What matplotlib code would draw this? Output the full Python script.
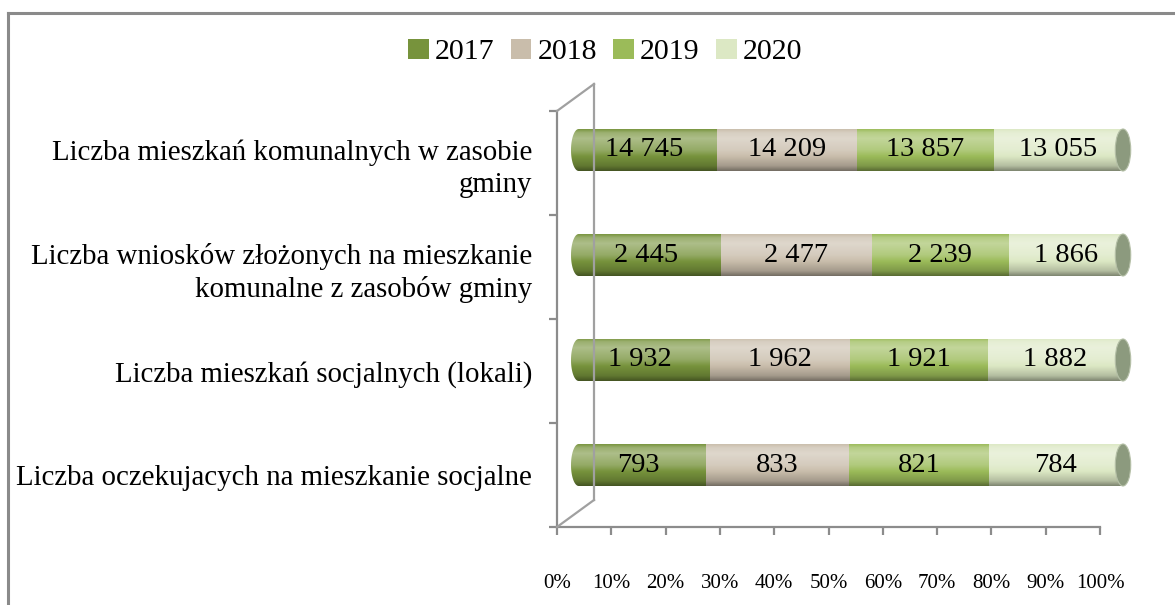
import numpy as np
import matplotlib
matplotlib.use('Agg')
import matplotlib.pyplot as plt
from matplotlib.patches import Patch, Polygon, Ellipse
from matplotlib.lines import Line2D
from matplotlib.colors import to_rgb

plt.rcParams['font.family'] = ['Liberation Serif', 'DejaVu Serif']

# categories listed top to bottom, as in the chart
categories = [
    'Liczba mieszkań komunalnych w zasobie\ngminy',
    'Liczba wniosków złożonych na mieszkanie\nkomunalne z zasobów gminy',
    'Liczba mieszkań socjalnych (lokali)',
    'Liczba oczekujacych na mieszkanie socjalne',
]
years = ['2017', '2018', '2019', '2020']
v2017 = [14745, 2445, 1932, 793]
v2018 = [14209, 2477, 1962, 833]
v2019 = [13857, 2239, 1921, 821]
v2020 = [13055, 1866, 1882, 784]
colors = ['#77933C', '#C9BDAB', '#9BBB59', '#DCE8C4']

values = np.array([v2017, v2018, v2019, v2020], dtype=float)[:, ::-1]  # bottom to top
cats = categories[::-1]
shares = values / values.sum(axis=0) * 100

W, H = 1175, 605
fig = plt.figure(figsize=(W / 100, H / 100), dpi=100)

def fx(px):
    return px / W

def fy(py):
    return 1 - py / H

# axis frame (the 2D scale with percent ticks)
ax = fig.add_axes([fx(557), fy(527), fx(1100) - fx(557), fy(111) - fy(527)])
ax.set_xlim(0, 1)
ax.set_ylim(0, 4)
axis_col = '#8C8C8C'
for s in ['top', 'right']:
    ax.spines[s].set_visible(False)
for s in ['left', 'bottom']:
    ax.spines[s].set_color(axis_col)
    ax.spines[s].set_linewidth(1.6)
ax.set_xticks(np.linspace(0, 1, 11))
ax.set_xticklabels([f'{int(p)}%' for p in np.linspace(0, 100, 11)], fontsize=15)
ax.set_yticks(range(5))
ax.set_yticklabels([])
ax.set_yticks(np.arange(4) + 0.5, minor=True)
ax.set_yticklabels(cats, minor=True, fontsize=20.8, ha='right', linespacing=1.3)
ax.tick_params(axis='y', which='minor', length=0, pad=18)
ax.tick_params(axis='both', which='major', color=axis_col, length=6, width=1.6)
ax.tick_params(axis='x', pad=28)
ax.patch.set_alpha(0)

# 3D back wall lines
wall = [((557, 111), (594, 84)), ((594, 84), (594, 500)), ((557, 527), (594, 500))]
for (x0, y0), (x1, y1) in wall:
    fig.add_artist(Line2D([fx(x0), fx(x1)], [fy(y0), fy(y1)], color='#A0A0A0', lw=1.6))

# outer chart border
fig.add_artist(Line2D([fx(8), fx(8)], [0, fy(13)], color='#8A8A8A', lw=2.2))
fig.add_artist(Line2D([fx(8), 1], [fy(13), fy(13)], color='#8A8A8A', lw=2.2))

# bar axes (cylinders, shifted by the 3D depth)
bx = fig.add_axes([fx(571), fy(517.5), fx(1123) - fx(571), fy(97.5) - fy(517.5)])
bx.axis('off')

h = 0.4
cap_w = 2.8
t = np.linspace(0, 1, 60)
f = np.interp(t, [0, 0.12, 0.5, 0.78, 0.92, 1.0], [0.58, 0.82, 1.12, 1.22, 1.15, 1.02])

def shaded(col):
    c = np.array(to_rgb(col))
    out = np.where(f[:, None] <= 1, c * f[:, None], c + (1 - c) * (f[:, None] - 1) * 1.8)
    return np.clip(out, 0, 1)[:, None, :]

for i in range(len(cats)):
    yc = i
    # clip path: body with a rounded left end
    a = np.linspace(np.pi / 2, 3 * np.pi / 2, 40)
    left = np.column_stack([cap_w / 2 * np.cos(a) + cap_w / 2, h / 2 * np.sin(a) + yc])
    pts = np.vstack([left, [[100, yc - h / 2], [100, yc + h / 2]]])
    clip = Polygon(pts, closed=True, transform=bx.transData, visible=False)
    bx.add_patch(clip)
    start = 0.0
    for k in range(len(years)):
        w = shares[k, i]
        im = bx.imshow(shaded(colors[k]), extent=[start, start + w, yc - h / 2, yc + h / 2],
                       origin='lower', aspect='auto', interpolation='bilinear')
        im.set_clip_path(clip)
        bx.text(start + w / 2, yc, f'{int(values[k, i]):,}'.replace(',', ' '),
                ha='center', va='center', fontsize=20.5, color='black')
        start += w
    bx.add_patch(Ellipse((100, yc), cap_w, h, facecolor='#8C9A7E', edgecolor='#B4BFA6',
                         lw=0.8, clip_on=False, zorder=3))

bx.set_xlim(0, 100)
bx.set_ylim(-0.5, 3.5)

handles = [Patch(facecolor=c, edgecolor='none') for c in colors]
fig.legend(handles, years, loc='center', bbox_to_anchor=(0.515, fy(52)), ncol=4, frameon=False,
           fontsize=21.5, handlelength=0.7, handleheight=0.7, handletextpad=0.2, columnspacing=0.55)

fig.savefig('out.png', dpi=100)
